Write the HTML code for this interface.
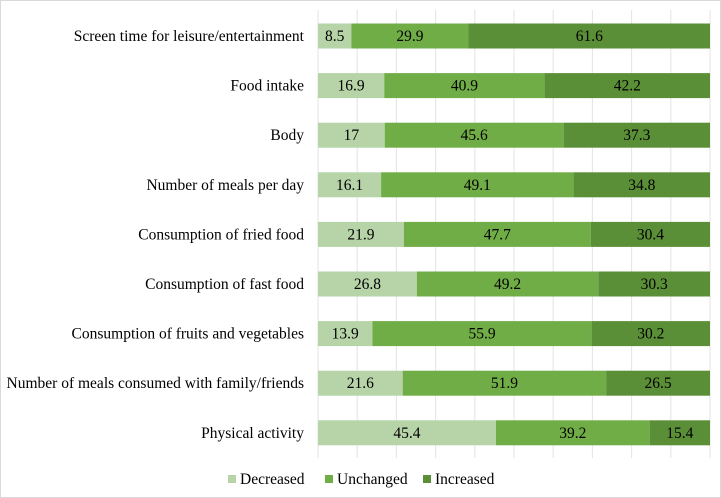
<!DOCTYPE html>
<html><head><meta charset="utf-8"><style>
body{margin:0;background:#fff;}
svg{display:block;font-family:"Liberation Serif",serif;}
</style></head><body>
<svg id="c" width="721" height="498">
<rect x="0.5" y="0.5" width="720" height="497" fill="#fff" stroke="#d9d9d9"/>
<g id="grid"></g><g id="bars"></g><g id="legend"></g>
</svg>
<script>
const categories=["Screen time for leisure/entertainment","Food intake","Body","Number of meals per day","Consumption of fried food","Consumption of fast food","Consumption of fruits and vegetables","Number of meals consumed with family/friends","Physical activity"];
const decreased=[8.5,16.9,17,16.1,21.9,26.8,13.9,21.6,45.4];
const unchanged=[29.9,40.9,45.6,49.1,47.7,49.2,55.9,51.9,39.2];
const increased=[61.6,42.2,37.3,34.8,30.4,30.3,30.2,26.5,15.4];
const seriesNames=["Decreased","Unchanged","Increased"];
const colors=["#b7d3a8","#70ad47","#5b8f37"];
const NS="http://www.w3.org/2000/svg";
const x0=318,x1=710,yTop=36,step=49.6,bh=25,fs=15.5;
const xs=v=>x0+(x1-x0)*v/100;
const ys=i=>yTop+i*step;
function mk(t,a,p){const e=document.createElementNS(NS,t);for(const k in a)e.setAttribute(k,a[k]);p.appendChild(e);return e;}
const grid=document.getElementById('grid');
for(let g=0;g<=100;g+=10){const l=mk('line',{x1:xs(g),x2:xs(g),y1:10,y2:458,stroke:'#e3e3e3'},grid);

}
const bars=document.getElementById('bars');
const data=[decreased,unchanged,increased];
categories.forEach((c,i)=>{
 const t=mk('text',{x:304,y:ys(i)+5,'text-anchor':'end','font-size':fs,fill:'#000'},bars);t.textContent=c;
 
 
 const total=data.reduce((s,a)=>s+a[i],0);
 let acc=0;
 data.forEach((s,j)=>{
  const v=s[i]/total*100;
  const r=mk('rect',{x:xs(acc),y:ys(i)-bh/2,width:xs(acc+v)-xs(acc),height:bh,fill:colors[j]},bars);
  
  
  const tx=mk('text',{x:(xs(acc)+xs(acc+v))/2,y:ys(i)+5,'text-anchor':'middle','font-size':fs,fill:'#000'},bars);tx.textContent=s[i];
  
  
  acc+=v;
 });
});
const lg=document.getElementById('legend');
const lx=[228,325,423];
seriesNames.forEach((n,j)=>{
 const r=mk('rect',{x:lx[j],y:475,width:8,height:8,fill:colors[j]},lg);
 
 
 const t=mk('text',{x:lx[j]+12,y:484,'font-size':fs,fill:'#000'},lg);t.textContent=n;
 
 
});
</script>
</body></html>
